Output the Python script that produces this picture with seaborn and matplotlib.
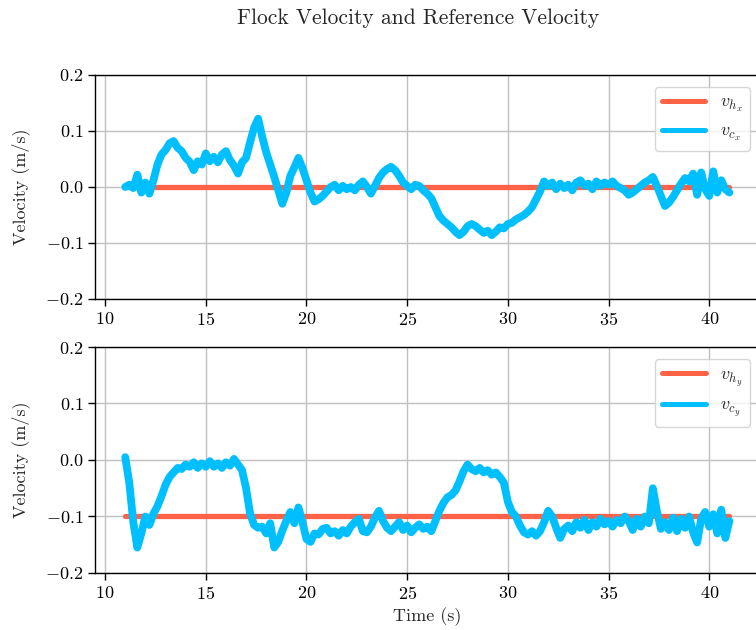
import numpy as np
import pandas as pd
import seaborn as sns
import matplotlib
matplotlib.use("Agg")
import matplotlib.pyplot as plt

# ---------------- data ----------------
time = np.round(np.arange(11.0, 41.0001, 0.2), 1)   # sample times (s)

ref_time = [11.0, 41.0]
vh_x = [0.0, 0.0]
vh_y = [-0.1, -0.1]

vc_x = [
    0.000, 0.004, -0.002, 0.022, -0.010, 0.008, -0.012, 0.012, 0.040, 0.058,   # 11.0-12.8
    0.066, 0.078, 0.082, 0.070, 0.064, 0.052, 0.045, 0.030, 0.046, 0.040,      # 13.0-14.8
    0.060, 0.046, 0.054, 0.044, 0.058, 0.064, 0.048, 0.038, 0.024, 0.044,      # 15.0-16.8
    0.052, 0.080, 0.106, 0.122, 0.090, 0.062, 0.040, 0.018, -0.006, -0.030,    # 17.0-18.8
    -0.010, 0.020, 0.035, 0.052, 0.034, 0.012, -0.010, -0.026, -0.022, -0.016, # 19.0-20.8
    -0.008, 0.000, 0.004, -0.006, 0.002, -0.004, 0.000, -0.006, 0.004, 0.010,  # 21.0-22.8
    0.000, -0.012, 0.002, 0.016, 0.026, 0.032, 0.036, 0.030, 0.020, 0.008,     # 23.0-24.8
    0.002, -0.004, 0.004, 0.002, -0.006, -0.012, -0.020, -0.036, -0.052, -0.060,  # 25.0-26.8
    -0.066, -0.072, -0.080, -0.086, -0.080, -0.070, -0.066, -0.070, -0.076, -0.082,  # 27.0-28.8
    -0.078, -0.086, -0.080, -0.072, -0.074, -0.066, -0.064, -0.058, -0.054, -0.050,  # 29.0-30.8
    -0.044, -0.036, -0.022, -0.008, 0.010, 0.002, 0.008, -0.004, 0.006, -0.002,  # 31.0-32.8
    0.004, -0.006, 0.008, 0.012, 0.002, 0.006, -0.004, 0.010, 0.002, 0.008,    # 33.0-34.8
    0.004, 0.010, 0.002, -0.002, -0.006, -0.014, -0.010, -0.004, 0.002, 0.008, # 35.0-36.8
    0.012, 0.018, 0.002, -0.016, -0.034, -0.028, -0.018, -0.006, 0.006, 0.016, # 37.0-38.8
    0.010, 0.024, -0.014, 0.026, -0.004, -0.016, 0.028, -0.010, 0.012, -0.004, # 39.0-40.8
    -0.010,                                                                    # 41.0
]

vc_y = [
    0.005, -0.040, -0.110, -0.155, -0.130, -0.100, -0.115, -0.095, -0.082, -0.064,  # 11.0-12.8
    -0.044, -0.030, -0.022, -0.014, -0.016, -0.008, -0.012, -0.004, -0.014, -0.006,  # 13.0-14.8
    -0.012, -0.002, -0.012, -0.006, -0.014, -0.004, -0.010, 0.002, -0.008, -0.018,   # 15.0-16.8
    -0.050, -0.095, -0.115, -0.120, -0.118, -0.130, -0.112, -0.155, -0.145, -0.125,  # 17.0-18.8
    -0.108, -0.092, -0.112, -0.084, -0.110, -0.140, -0.145, -0.130, -0.132, -0.122,  # 19.0-20.8
    -0.120, -0.130, -0.126, -0.134, -0.124, -0.130, -0.118, -0.110, -0.104, -0.126,  # 21.0-22.8
    -0.128, -0.118, -0.102, -0.090, -0.108, -0.120, -0.126, -0.118, -0.110, -0.124,  # 23.0-24.8
    -0.116, -0.128, -0.120, -0.114, -0.122, -0.118, -0.126, -0.108, -0.090, -0.076,  # 25.0-26.8
    -0.066, -0.062, -0.054, -0.038, -0.020, -0.008, -0.016, -0.020, -0.014, -0.022,  # 27.0-28.8
    -0.018, -0.026, -0.022, -0.030, -0.040, -0.074, -0.092, -0.100, -0.116, -0.128,  # 29.0-30.8
    -0.132, -0.126, -0.134, -0.126, -0.110, -0.090, -0.100, -0.120, -0.138, -0.122,  # 31.0-32.8
    -0.116, -0.126, -0.110, -0.120, -0.106, -0.124, -0.110, -0.118, -0.104, -0.114,  # 33.0-34.8
    -0.108, -0.118, -0.106, -0.112, -0.100, -0.108, -0.124, -0.104, -0.118, -0.100,  # 35.0-36.8
    -0.112, -0.050, -0.090, -0.122, -0.110, -0.124, -0.102, -0.126, -0.104, -0.120,  # 37.0-38.8
    -0.100, -0.128, -0.146, -0.104, -0.092, -0.118, -0.096, -0.130, -0.088, -0.138,  # 39.0-40.8
    -0.108,                                                                          # 41.0
]

yticks = [-0.2, -0.1, 0.0, 0.1, 0.2]
xticks = [10, 15, 20, 25, 30, 35, 40]

# ---------------- style ----------------
sns.set_style("ticks", {"axes.grid": True, "grid.color": "#c0c0c0",
                        "axes.edgecolor": "black", "xtick.color": "black",
                        "ytick.color": "black"})
plt.rcParams["font.family"] = ["cmr10", "DejaVu Serif"]
plt.rcParams["mathtext.fontset"] = "cm"
plt.rcParams["axes.formatter.use_mathtext"] = True
plt.rcParams["axes.unicode_minus"] = True

fig = plt.figure(figsize=(7.56, 6.30), dpi=100)
ax1 = fig.add_axes([0.1257, 0.5254, 0.879, 0.3556])
ax2 = fig.add_axes([0.1257, 0.0905, 0.879, 0.3587])

red = "#ff6347"
blue = "#00bfff"

df_x = pd.DataFrame({"t": time, "v": vc_x})
df_y = pd.DataFrame({"t": time, "v": vc_y})

panels = [
    (ax1, vh_x, df_x, r"$v_{h_x}$", r"$v_{c_x}$"),
    (ax2, vh_y, df_y, r"$v_{h_y}$", r"$v_{c_y}$"),
]
for ax, ref, df, lab_h, lab_c in panels:
    sns.lineplot(x=ref_time, y=ref, ax=ax, color=red, linewidth=3.8, label=lab_h, zorder=2)
    sns.lineplot(data=df, x="t", y="v", ax=ax, color=blue, linewidth=5.6, label=lab_c, zorder=3)
    ax.set_xlim(9.5, 42.5)
    ax.set_ylim(-0.2, 0.2)
    ax.set_yticks(yticks)
    ax.set_xticks(xticks)
    ax.set_ylabel("Velocity (m/s)", fontsize=13, labelpad=11)
    ax.set_xlabel("")
    ax.tick_params(labelsize=13, length=5, width=1, direction="out")
    ax.grid(True, color="#c0c0c0", linewidth=1.0)
    for s in ax.spines.values():
        s.set_color("black")
        s.set_linewidth(1.0)
    leg = ax.legend(loc="upper right", bbox_to_anchor=(0.9985, 0.985), fontsize=13,
                    frameon=True, fancybox=True, handlelength=2.4)
    leg.get_frame().set_edgecolor("#cccccc")
    for line in leg.get_lines():
        line.set_linewidth(3.6)

ax2.set_xlabel("Time (s)", fontsize=13)
fig.text(418 / 756, 1 - 18 / 630, "Flock Velocity and Reference Velocity",
         ha="center", va="center", fontsize=15.5)

fig.savefig("out.png", dpi=100)
